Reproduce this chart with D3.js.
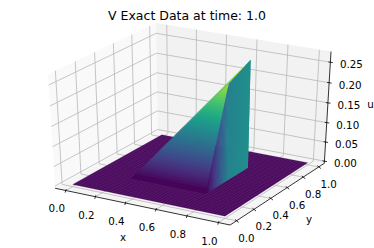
<!DOCTYPE html>
<html><head><meta charset="utf-8">
<script src="https://cdn.jsdelivr.net/npm/d3@7"></script>
<style>html,body{margin:0;padding:0;background:#fff}svg{display:block}text{font-family:"DejaVu Sans";fill:#000}</style>
</head><body><svg id="c" width="374" height="248"></svg>
<script>
const titleText = "V Exact Data at time: 1.0";
const xTicks = [0, 0.2, 0.4, 0.6, 0.8, 1.0];
const yTicks = [0, 0.2, 0.4, 0.6, 0.8, 1.0];
const zTicks = [0, 0.05, 0.10, 0.15, 0.20, 0.25];
const xLim = [-0.073, 1.073];
const yLim = [-0.073, 1.073];
const zLim = [-0.0056, 0.2756];
const colorMax = 0.27;
const floorEdge = [0, 1];
const floorMesh = d3.range(0, 1.0001, 0.02);
const cliffX = 0.735;
// surface rows
const rowY = [0.25,0.25625,0.2625,0.26875,0.275,0.28125,0.2875,0.29375,0.3,0.30625,0.3125,0.31875,0.325,0.33125,0.3375,0.34375,0.35,0.35625,0.3625,0.36875,0.375,0.38125,0.3875,0.39375,0.4,0.40625,0.4125,0.41875,0.425,0.43125,0.4375,0.44375,0.45,0.45625,0.4625,0.46875,0.475,0.48125,0.4875,0.49375,0.5,0.5125,0.525,0.5375,0.55,0.5625,0.575,0.5875,0.6,0.6125,0.625,0.6375,0.65,0.6625,0.675,0.6875,0.7,0.7125,0.725,0.7375,0.75];
const rowCreaseX = [0.24,0.2524,0.2648,0.2771,0.2895,0.3019,0.3143,0.3266,0.339,0.3514,0.3638,0.3761,0.3885,0.4009,0.4133,0.4256,0.438,0.4504,0.4628,0.4751,0.4875,0.4999,0.5123,0.5246,0.537,0.5494,0.5618,0.5741,0.5865,0.5989,0.6113,0.6236,0.636,0.6484,0.6608,0.6731,0.6855,0.6979,0.7103,0.7226,0.735,0.735,0.735,0.735,0.735,0.735,0.735,0.735,0.735,0.735,0.735,0.735,0.735,0.735,0.735,0.735,0.735,0.735,0.735,0.735,0.735];
const rowCreaseV = [0,0.006,0.012,0.018,0.024,0.03,0.036,0.042,0.048,0.054,0.06,0.066,0.072,0.078,0.084,0.09,0.096,0.102,0.108,0.114,0.12,0.126,0.132,0.138,0.144,0.15,0.156,0.162,0.168,0.174,0.18,0.186,0.192,0.198,0.204,0.21,0.216,0.222,0.228,0.234,0.24,0.2415,0.243,0.2445,0.246,0.2475,0.249,0.2505,0.252,0.2535,0.255,0.2565,0.258,0.2595,0.261,0.2625,0.264,0.2655,0.267,0.2685,0.27];
const rowHypX = [0.24,0.2462,0.2524,0.2586,0.2648,0.2709,0.2771,0.2833,0.2895,0.2957,0.3019,0.3081,0.3143,0.3204,0.3266,0.3328,0.339,0.3452,0.3514,0.3576,0.3638,0.3699,0.3761,0.3823,0.3885,0.3947,0.4009,0.4071,0.4133,0.4194,0.4256,0.4318,0.438,0.4442,0.4504,0.4566,0.4628,0.4689,0.4751,0.4813,0.4875,0.4999,0.5123,0.5246,0.537,0.5494,0.5618,0.5741,0.5865,0.5989,0.6113,0.6236,0.636,0.6484,0.6608,0.6731,0.6855,0.6979,0.7103,0.7226,0.735];
const rowHypV = [0,0.0034,0.0068,0.0101,0.0135,0.0169,0.0203,0.0236,0.027,0.0304,0.0338,0.0371,0.0405,0.0439,0.0473,0.0506,0.054,0.0574,0.0608,0.0641,0.0675,0.0709,0.0743,0.0776,0.081,0.0844,0.0878,0.0911,0.0945,0.0979,0.1013,0.1046,0.108,0.1114,0.1148,0.1181,0.1215,0.1249,0.1283,0.1316,0.135,0.1418,0.1485,0.1553,0.162,0.1688,0.1755,0.1823,0.189,0.1958,0.2025,0.2093,0.216,0.2228,0.2295,0.2363,0.243,0.2498,0.2565,0.2633,0.27];

const svg=d3.select("#c");
const elev=30*Math.PI/180, azim=-60*Math.PI/180, dist=10;
const nx=d3.scaleLinear().domain(xLim).range([0,1]);
const ny=d3.scaleLinear().domain(yLim).range([0,1]);
const nz=d3.scaleLinear().domain(zLim).range([0,1]);
const n=[Math.cos(elev)*Math.cos(azim),Math.cos(elev)*Math.sin(azim),Math.sin(elev)];
const un=Math.hypot(n[0],n[1]);
const u=[-n[1]/un,n[0]/un,0];
const v=[n[1]*u[2]-n[2]*u[1],n[2]*u[0]-n[0]*u[2],n[0]*u[1]-n[1]*u[0]];
function raw(a,b,c){
  const p=[a-0.5,b-0.5,c-0.5];
  const d=dist-(p[0]*n[0]+p[1]*n[1]+p[2]*n[2]);
  return [(p[0]*u[0]+p[1]*u[1]+p[2]*u[2])/d,(p[0]*v[0]+p[1]*v[1]+p[2]*v[2])/d];
}
const corners=[];
[0,1].forEach(a=>[0,1].forEach(b=>[0,1].forEach(c=>corners.push(raw(a,b,c)))));
const sx=d3.scaleLinear().domain(d3.extent(corners,d=>d[0])).range([48,331]);
const sy=d3.scaleLinear().domain(d3.extent(corners,d=>d[1])).range([225,23]);
function P(x,y,z){const r=raw(nx(x),ny(y),nz(z));return [sx(r[0]),sy(r[1])];}
const line=d3.line();
const color=d=>d3.interpolateViridis(Math.max(0,Math.min(1,d/colorMax)));
const poly=(g,pts,fill)=>g.append("path").attr("d",line(pts)+"Z").attr("fill",fill);

const [x0,x1]=xLim,[y0,y1]=yLim,[z0,z1]=zLim;
const g=svg.append("g");
poly(g,[P(x0,y0,z0),P(x0,y1,z0),P(x0,y1,z1),P(x0,y0,z1)],"#f9f9f9");
poly(g,[P(x0,y1,z0),P(x1,y1,z0),P(x1,y1,z1),P(x0,y1,z1)],"#f2f2f2");
poly(g,[P(x0,y0,z0),P(x1,y0,z0),P(x1,y1,z0),P(x0,y1,z0)],"#f5f5f5");
const grid=pts=>g.append("path").attr("d",line(pts)).attr("fill","none").attr("stroke","#b8b8b8").attr("stroke-width",0.8);
xTicks.forEach(t=>grid([P(t,y0,z0),P(t,y1,z0),P(t,y1,z1)]));
yTicks.forEach(t=>grid([P(x1,t,z0),P(x0,t,z0),P(x0,t,z1)]));
zTicks.forEach(t=>grid([P(x0,y0,t),P(x0,y1,t),P(x1,y1,t)]));
const axis=pts=>g.append("path").attr("d",line(pts)).attr("fill","none").attr("stroke","#000").attr("stroke-width",0.8);
axis([P(x0,y0,z0),P(x1,y0,z0)]);
axis([P(x1,y0,z0),P(x1,y1,z0)]);
axis([P(x1,y1,z0),P(x1,y1,z1)]);
const tick=(a,b)=>g.append("line").attr("x1",a[0]).attr("y1",a[1]).attr("x2",b[0]).attr("y2",b[1]).attr("stroke","#000").attr("stroke-width",0.8);
const label=(p,s)=>g.append("text").attr("x",p[0]).attr("y",p[1]).attr("text-anchor","middle").attr("dominant-baseline","central").attr("font-size",10.3).text(s);
const f1=d3.format(".1f"),f2=d3.format(".2f");
xTicks.forEach(t=>{const p=P(t,y0,z0);tick([p[0]+0.4,p[1]-1.4],[p[0]-0.7,p[1]+2.1]);label([p[0]-9,p[1]+18],f1(t));});
yTicks.forEach(t=>{const p=P(x1,t,z0);tick([p[0]-1.4,p[1]-1.3],[p[0]+2.2,p[1]+1.6]);label([p[0]+10,p[1]+17],f1(t));});
zTicks.forEach(t=>{const p=P(x1,y1,t);tick([p[0]-2,p[1]-0.3],[p[0]+2.5,p[1]+0.4]);label([p[0]+21,p[1]+2],f2(t));});
const s=svg.append("g");
poly(s,[P(floorEdge[0],floorEdge[0],0),P(floorEdge[1],floorEdge[0],0),P(floorEdge[1],floorEdge[1],0),P(floorEdge[0],floorEdge[1],0)],color(0));
const mesh=s.append("g").attr("stroke","#7a4c94").attr("stroke-width",0.22).attr("fill","none");
floorMesh.forEach(t=>{
  mesh.append("path").attr("d",line([P(t,floorEdge[0],0),P(t,floorEdge[1],0)]));
  mesh.append("path").attr("d",line([P(floorEdge[0],t,0),P(floorEdge[1],t,0)]));
});
const m=rowY.length;
// back sliver: strips overlap the next row so that no seam shows
d3.range(m-2,-1,-1).forEach(i=>{
  const k=Math.min(i+2,m-1);
  const a=[rowHypX[i],rowY[i],rowHypV[i]],b=[rowCreaseX[i],rowY[i],rowCreaseV[i]],c=[rowCreaseX[k],rowY[k],rowCreaseV[k]],d=[rowHypX[k],rowY[k],rowHypV[k]];
  poly(s,[a,b,c,d].map(q=>P(...q)),color((rowHypV[i]+rowCreaseV[i]+rowHypV[i+1]+rowCreaseV[i+1])/4));
});
// front plane
d3.range(39,-1,-1).forEach(i=>{
  const k=Math.min(i+2,40);
  poly(s,[P(rowCreaseX[i],rowY[i],rowCreaseV[i]),P(cliffX,rowY[i],rowCreaseV[i]),P(cliffX,rowY[k],rowCreaseV[k]),P(rowCreaseX[k],rowY[k],rowCreaseV[k])],color((rowCreaseV[i]+rowCreaseV[i+1])/2));
});
// cliff
d3.range(m-2,-1,-1).forEach(i=>{
  const k=Math.min(i+2,m-1);
  poly(s,[P(cliffX,rowY[i],0),P(cliffX,rowY[k],0),P(cliffX,rowY[k],rowCreaseV[k]),P(cliffX,rowY[i],rowCreaseV[i])],color((rowCreaseV[i]+rowCreaseV[i+1])/4));
});
svg.append("text").attr("x",187).attr("y",15).attr("text-anchor","middle").attr("dominant-baseline","central").attr("font-size",12.5).text(titleText);
label([123,237],"x");label([309,219],"y");label([370.5,104],"u");
</script></body></html>
